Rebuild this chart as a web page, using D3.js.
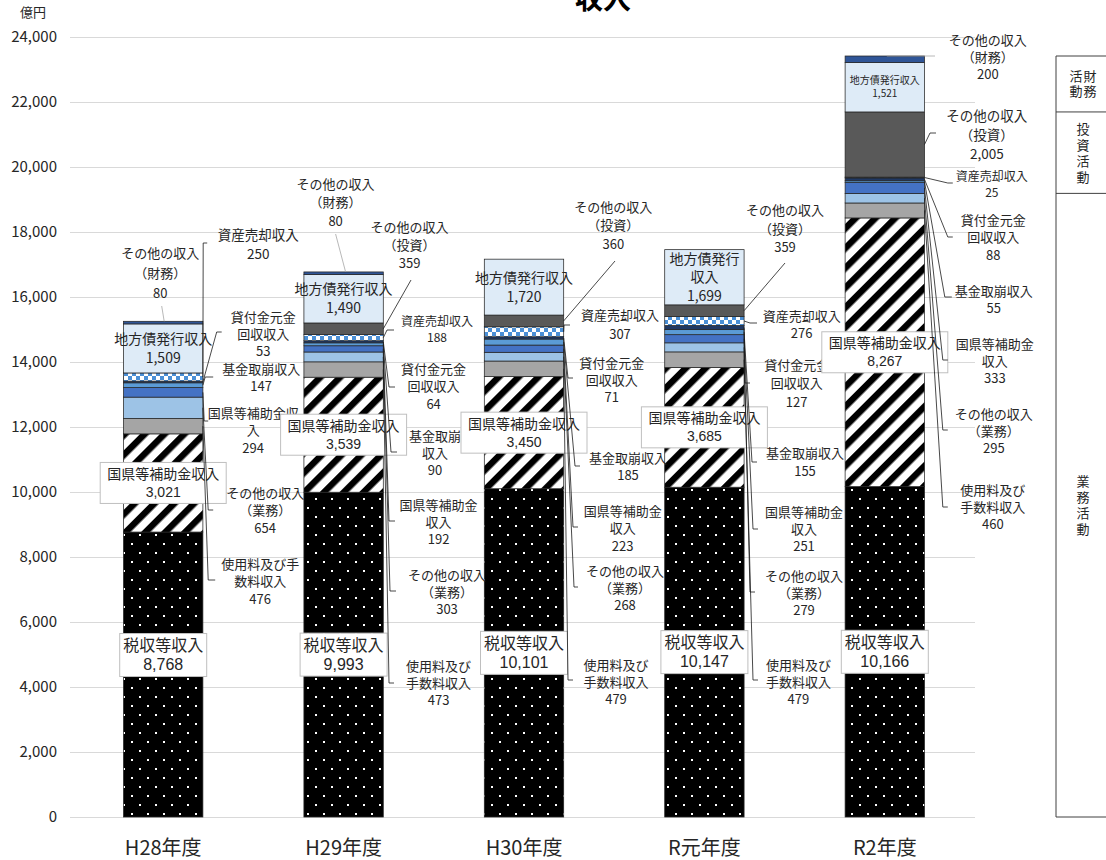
<!DOCTYPE html>
<html lang="ja">
<head>
<meta charset="utf-8">
<title>収入</title>
<script src="https://cdn.jsdelivr.net/npm/d3@7"></script>
<style>
  body { margin: 0; background: #fff; }
  svg { display: block; }
  text { font-family: "Noto Sans CJK JP", "Noto Sans", sans-serif; fill: #262626; }
</style>
</head>
<body>
<svg id="chart" width="1106" height="860"></svg>
<script>
// ---- data (億円) ----
const years = ["H28年度", "H29年度", "H30年度", "R元年度", "R2年度"];

// 業務活動
const taxRevenue       = [8768, 9993, 10101, 10147, 10166];
const subsidyOperating = [3021, 3539, 3450, 3685, 8267];
const feesCharges      = [476, 473, 479, 479, 460];
const otherOperating   = [654, 303, 268, 279, 295];
// 投資活動
const subsidyInvesting = [294, 192, 223, 251, 333];
const fundDrawdown     = [147, 90, 185, 155, 55];
const loanRecovery     = [53, 64, 71, 127, 88];
const assetSales       = [250, 188, 307, 276, 25];
const otherInvesting   = [0, 359, 360, 359, 2005];
// 財務活動
const bondIssuance     = [1509, 1490, 1720, 1699, 1521];
const otherFinancing   = [80, 80, 0, 0, 200];

const seriesNames = [
  "税収等収入", "国県等補助金収入", "使用料及び手数料収入", "その他の収入（業務）",
  "国県等補助金収入", "基金取崩収入", "貸付金元金回収収入", "資産売却収入", "その他の収入（投資）",
  "地方債発行収入", "その他の収入（財務）"
];
const seriesList = [
  taxRevenue, subsidyOperating, feesCharges, otherOperating,
  subsidyInvesting, fundDrawdown, loanRecovery, assetSales, otherInvesting,
  bondIssuance, otherFinancing
];
const yTicks = d3.range(0, 24001, 2000);
// vertical section captions, columns listed right to left
const sectionNames = [["業務活動"], ["投資活動"], ["財務", "活動"]];

// ---- styling ----
const segmentFills = [
  "url(#pat-dots)", "url(#pat-stripes)", "#a5a5a5", "#9dc3e6",
  "#4472c4", "#5b9bd5", "#1f3864", "url(#pat-checks)", "#595959",
  "#deebf7", "#2f5597"
];

// ---- label placement (px; dx relative to the bar centre) ----
const sideLabels = [
  [ // H28
    {k: 10, lines: ["その他の収入", "（財務）"], dx: -3, y: 253, lh: 20, path: [[-1.5, 306]], end: "top", endDx: 1, gray: true},
    {k: 7, lines: ["資産売却収入"], dx: 95, y: 235, lh: 19, size: 13.5, path: [[44, 243], [40, 243]]},
    {k: 6, lines: ["貸付金元金", "回収収入"], dx: 100, y: 317, lh: 17, path: [[58.5, 332], [53.5, 332]]},
    {k: 5, lines: ["基金取崩収入"], dx: 98, y: 369, lh: 17, path: [[50, 377], [42, 377]]},
    {k: 4, lines: ["国県等補助金収", "入"], dx: 90, y: 413, lh: 17.5, path: [[45, 421], [41, 421]]},
    {k: 3, lines: ["その他の収入", "（業務）"], dx: 102, y: 493, lh: 17.5, path: [[50, 510], [45, 510]]},
    {k: 2, lines: ["使用料及び手", "数料収入"], dx: 97, y: 564, lh: 17.5, path: [[52, 580], [45, 580]]}
  ],
  [ // H29
    {k: 10, lines: ["その他の収入", "（財務）"], dx: -8, y: 184, lh: 18.6, path: [[-8, 234]], end: "top", endDx: 2, gray: true},
    {k: 8, lines: ["その他の収入", "（投資）"], dx: 66, y: 227, lh: 18, path: [[67.4, 280]]},
    {k: 7, lines: ["資産売却収入"], dx: 93.4, y: 321.5, lh: 16.5, size: 12, path: [[50.4, 330], [43.4, 330]]},
    {k: 6, lines: ["貸付金元金", "回収収入"], dx: 90, y: 369, lh: 17.5, path: [[51.4, 387], [45.4, 387]]},
    {k: 5, lines: ["基金取崩", "収入"], dx: 91.4, y: 436, lh: 17.3, path: [[53.4, 452], [47.4, 452]]},
    {k: 4, lines: ["国県等補助金", "収入"], dx: 95, y: 505.7, lh: 17, path: [[51.4, 521], [45.4, 521]]},
    {k: 3, lines: ["その他の収入", "（業務）"], dx: 103.4, y: 575.6, lh: 17, path: [[52.4, 591], [46.4, 591]]},
    {k: 2, lines: ["使用料及び", "手数料収入"], dx: 95, y: 666, lh: 17, path: [[50.4, 683], [45.4, 683]]}
  ],
  [ // H30
    {k: 8, lines: ["その他の収入", "（投資）"], dx: 89.3, y: 207.3, lh: 18.5, path: [[91, 261]]},
    {k: 7, lines: ["資産売却収入"], dx: 96, y: 315, lh: 19.3, path: [[46, 325], [40, 325]]},
    {k: 6, lines: ["貸付金元金", "回収収入"], dx: 87.7, y: 363, lh: 17, path: [[49, 378], [44, 378]]},
    {k: 5, lines: ["基金取崩収入"], dx: 104, y: 458.3, lh: 17.4, path: [[56, 466], [51, 466]]},
    {k: 4, lines: ["国県等補助金", "収入"], dx: 98.7, y: 511.7, lh: 17.2, path: [[54, 527], [49, 527]]},
    {k: 3, lines: ["その他の収入", "（業務）"], dx: 101, y: 571, lh: 17.4, path: [[54, 587], [50, 587]]},
    {k: 2, lines: ["使用料及び", "手数料収入"], dx: 92, y: 665, lh: 17, path: [[49, 680], [44, 680]]}
  ],
  [ // R元
    {k: 8, lines: ["その他の収入", "（投資）"], dx: 80.6, y: 210.7, lh: 18.3, path: [[80.6, 263]]},
    {k: 7, lines: ["資産売却収入"], dx: 97.3, y: 316, lh: 17.3, path: [[52.6, 323], [45.6, 323]]},
    {k: 6, lines: ["貸付金元金", "回収収入"], dx: 92.3, y: 365, lh: 18.7, path: [[45.6, 383], [40.6, 383]]},
    {k: 5, lines: ["基金取崩収入"], dx: 100.6, y: 453.3, lh: 17.7, path: [[52.6, 462], [47.6, 462]]},
    {k: 4, lines: ["国県等補助金", "収入"], dx: 99.6, y: 512.7, lh: 17, path: [[53.6, 529], [48.6, 529]]},
    {k: 3, lines: ["その他の収入", "（業務）"], dx: 99.6, y: 576.7, lh: 17, path: [[50.6, 592], [45.6, 592]]},
    {k: 2, lines: ["使用料及び", "手数料収入"], dx: 94, y: 665, lh: 17, path: [[53.6, 680], [48.6, 680]]}
  ],
  [ // R2
    {k: 10, lines: ["その他の収入", "（財務）"], dx: 103, y: 40, lh: 17.2, path: [[50.2, 56]], end: "top", endDx: 2, gray: true},
    {k: 8, lines: ["その他の収入", "（投資）"], dx: 102, y: 116.7, lh: 18.7, size: 13.5, path: [[51.2, 133], [45.2, 133]]},
    {k: 7, lines: ["資産売却収入"], dx: 107, y: 176.5, lh: 16.5, size: 12, path: [[68, 183], [63, 183]]},
    {k: 6, lines: ["貸付金元金", "回収収入"], dx: 108.5, y: 220, lh: 17.5, path: [[68, 237], [63, 237]]},
    {k: 5, lines: ["基金取崩収入"], dx: 109, y: 291, lh: 17, path: [[67, 297], [60, 297]]},
    {k: 4, lines: ["国県等補助金", "収入"], dx: 110, y: 344.5, lh: 17, path: [[63, 360], [58, 360]]},
    {k: 3, lines: ["その他の収入", "（業務）"], dx: 109, y: 414.7, lh: 17, path: [[63, 430], [58, 430]]},
    {k: 2, lines: ["使用料及び", "手数料収入"], dx: 108, y: 490, lh: 17, path: [[63, 507], [58, 507]]}
  ]
];
// labels written inside the 地方債発行収入 segment
const bondLabelLines = [["地方債発行収入"], ["地方債発行収入"], ["地方債発行収入"], ["地方債発行", "収入"], ["地方債発行収入"]];
const bondLabelSize = [14, 14, 14, 14, 10];
const bondLabelLh = [19, 18.5, 19, 18.5, 13.5];
// vertical offset of the 税収等収入 box from its segment centre
const taxBoxShift = [-19.5, 0, 0, 0, 0];

// ---- scales ----
const svg = d3.select("#chart");
const x = d3.scaleBand().domain(years).range([73, 975]).paddingInner(0.56).paddingOuter(0.28);
const y = d3.scaleLinear().domain([0, 24000]).range([817, 37]);
const fmt = d3.format(",");

const keys = seriesList.map((_, k) => String(k));
const rows = years.map((year, i) => {
  const r = {year};
  seriesList.forEach((s, k) => { r[k] = s[i]; });
  return r;
});
const stacked = d3.stack().keys(keys)(rows);

// ---- fill patterns ----
const defs = svg.append("defs");
const dots = defs.append("pattern").attr("id", "pat-dots")
  .attr("patternUnits", "userSpaceOnUse").attr("width", 16).attr("height", 18);
dots.append("rect").attr("width", 16).attr("height", 18).attr("fill", "#000");
dots.append("rect").attr("x", 3).attr("y", 3).attr("width", 2).attr("height", 2).attr("fill", "#fff");
dots.append("rect").attr("x", 11).attr("y", 12).attr("width", 2).attr("height", 2).attr("fill", "#fff");

const stripes = defs.append("pattern").attr("id", "pat-stripes")
  .attr("patternUnits", "userSpaceOnUse").attr("width", 14).attr("height", 14)
  .attr("patternTransform", "rotate(45)");
stripes.append("rect").attr("width", 14).attr("height", 14).attr("fill", "#fff");
stripes.append("rect").attr("width", 6.5).attr("height", 14).attr("fill", "#000");

const checks = defs.append("pattern").attr("id", "pat-checks")
  .attr("patternUnits", "userSpaceOnUse").attr("width", 8).attr("height", 8);
checks.append("rect").attr("width", 8).attr("height", 8).attr("fill", "#fff");
checks.append("rect").attr("width", 4).attr("height", 4).attr("fill", "#4a8fd6");
checks.append("rect").attr("x", 4).attr("y", 4).attr("width", 4).attr("height", 4).attr("fill", "#4a8fd6");

// ---- title ----
svg.append("text").attr("x", 603).attr("y", 9).attr("text-anchor", "middle")
  .attr("font-size", 28).attr("font-weight", "bold").style("fill", "#000").text("収入");

// ---- y axis with gridlines ----
const yAxis = svg.append("g").attr("transform", "translate(70,0)")
  .call(d3.axisLeft(y).tickValues(yTicks).tickSize(-905).tickPadding(13).tickFormat(fmt));
yAxis.select(".domain").remove();
yAxis.selectAll(".tick line").attr("stroke", "#d9d9d9").attr("stroke-width", 1);
yAxis.selectAll(".tick text").attr("font-size", 15).attr("font-family", null).style("fill", "#262626");
svg.append("text").attr("x", 33).attr("y", 12).attr("dy", "0.35em").attr("text-anchor", "middle")
  .attr("font-size", 13).text("億円");

// ---- x axis labels ----
const xAxis = svg.append("g").attr("transform", "translate(0,817)")
  .call(d3.axisBottom(x).tickSize(0));
xAxis.select(".domain").remove();
xAxis.selectAll(".tick text").attr("y", 31).attr("dy", "0.35em")
  .attr("font-size", 20).attr("font-family", null).style("fill", "#262626");

// ---- stacked bars ----
svg.append("g").selectAll("g").data(stacked).join("g")
  .attr("fill", d => segmentFills[d.index])
  .selectAll("rect")
  .data(d => d.filter(p => p[1] - p[0] > 0))
  .join("rect")
  .attr("x", p => x(p.data.year))
  .attr("width", x.bandwidth())
  .attr("y", p => y(p[1]))
  .attr("height", p => y(p[0]) - y(p[1]))
  .attr("stroke", "#262626")
  .attr("stroke-width", 0.75);

// helpers
const segMid = (k, i) => y((stacked[k][i][0] + stacked[k][i][1]) / 2);
const barTop = i => y(stacked[stacked.length - 1][i][1]);
const centre = yr => x(yr) + x.bandwidth() / 2;

// one text element per label, one tspan per line
function writeLines(g, lines, cx, y1, lh, size) {
  const t = g.append("text").attr("text-anchor", "middle").attr("font-size", size);
  lines.forEach((s, j) => {
    t.append("tspan").attr("x", cx).attr("y", y1 + j * lh).attr("dy", "0.35em").text(s);
  });
  return t;
}

const labelLayer = svg.append("g");
const leaderLayer = svg.append("g").attr("fill", "none");

years.forEach((yr, i) => {
  const c = centre(yr);

  // boxed labels: 税収等収入 and 国県等補助金収入 (業務)
  const boxes = [
    {k: 0, w: 87, h: 43, size: 16, lh: 19, cy: segMid(0, i) + taxBoxShift[i]},
    {k: 1, w: 126, h: 41, size: 14, lh: 18, cy: segMid(1, i)}
  ];
  boxes.forEach(b => {
    labelLayer.append("rect").attr("x", c - b.w / 2).attr("y", b.cy - b.h / 2)
      .attr("width", b.w).attr("height", b.h)
      .attr("fill", "#fff").attr("stroke", "#bfbfbf").attr("stroke-width", 1);
    const t = writeLines(labelLayer, [seriesNames[b.k], fmt(seriesList[b.k][i])], c, b.cy - b.lh / 2, b.lh, b.size);
    // figures in the boxes use a compact-metric face so the two lines sit close together
    t.selectAll("tspan").filter((_, j) => j === 1).style("font-family", "'Liberation Sans', Arial, sans-serif");
  });

  // 地方債発行収入 inside its segment
  const lines = bondLabelLines[i].concat([fmt(bondIssuance[i])]);
  const lh = bondLabelLh[i];
  const mid = segMid(9, i);
  writeLines(labelLayer, lines, c, mid - lh * (lines.length - 1) / 2, lh, bondLabelSize[i]);

  // side labels with leader lines
  const right = x(yr) + x.bandwidth();
  sideLabels[i].forEach(L => {
    const size = L.size || 13;
    writeLines(labelLayer, L.lines.concat([fmt(seriesList[L.k][i])]), c + L.dx, L.y, L.lh, size);
    const pts = L.path.map(([dx, py]) => [c + dx, py]);
    if (L.end === "top") pts.push([c + L.endDx, barTop(i)]);
    else pts.push([right, segMid(L.k, i)]);
    leaderLayer.append("path").attr("d", d3.line()(pts))
      .attr("stroke", L.gray ? "#a6a6a6" : "#1a1a1a").attr("stroke-width", 0.8);
  });
});

// ---- activity section panel (boundaries follow the latest year's cumulative totals) ----
const latest = seriesList.map(s => s[s.length - 1]);
const cum = d3.cumsum(latest);
const bounds = [y(0), y(cum[3]), y(cum[8]), y(cum[10])];
const panel = svg.append("g");
const px0 = 1056;
panel.append("line").attr("x1", px0).attr("x2", px0).attr("y1", bounds[3]).attr("y2", bounds[0])
  .attr("stroke", "#404040").attr("stroke-width", 1);
bounds.forEach(b => panel.append("line").attr("x1", px0).attr("x2", 1106).attr("y1", b).attr("y2", b)
  .attr("stroke", "#404040").attr("stroke-width", 1));
sectionNames.forEach((cols, s) => {
  const mid = (bounds[s] + bounds[s + 1]) / 2;
  const spacing = cols.length === 2 ? 2 : 3;
  cols.forEach((txt, j) => {
    const cx = cols.length === 2 ? 1090 - j * 14 : 1083;
    panel.append("text")
      .attr("x", cx).attr("y", mid + spacing / 2)
      .attr("text-anchor", "middle")
      .attr("font-size", 13)
      .style("writing-mode", "vertical-rl")
      .style("letter-spacing", spacing + "px")
      .text(txt);
  });
});
</script>
</body>
</html>
